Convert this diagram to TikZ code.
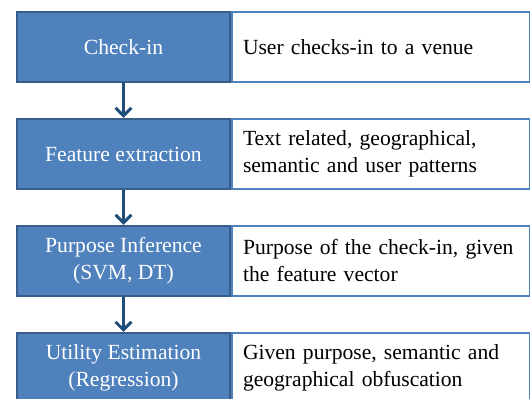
\documentclass[tikz,border=0pt]{standalone}
\usepackage{fontspec}
\setmainfont{Liberation Serif}
\usetikzlibrary{positioning,arrows.meta}
\definecolor{stepblue}{HTML}{4F81BD}
\definecolor{stepedge}{HTML}{385D8A}
\definecolor{flowblue}{HTML}{1F4E79}

\begin{document}
\begin{tikzpicture}[node distance={17.5pt}, font=\fontsize{10.8}{13.5}\selectfont,
    main/.style = {draw=stepedge, fill=stepblue, line width=1pt, text=white, minimum width=106.5pt, minimum height=35pt, align=center, inner sep=0pt},
    info/.style = {draw=stepblue, fill=white, line width=1pt, minimum height=35pt, text width=138pt, inner xsep=5.5pt, inner ysep=0pt, align=left},
    flow/.style = {draw=flowblue, line width=1.5pt, -{Straight Barb[length=4pt, width=8pt]}}]
    \clip (-61.75pt,23.5pt) rectangle (203.25pt,-176pt);
    \node[main] (checkin) {Check-in};
    \node[main] (feature) [below=of checkin] {Feature extraction};
    \node[main] (purpose) [below=of feature] {Purpose Inference\\(SVM, DT)};
    \node[main] (utility) [below=of purpose] {Utility Estimation\\(Regression)};
    \node[info] (checkinfo) [right=0pt of checkin] {User checks-in to a venue};
    \node[info] (featureinfo) [right=0pt of feature] {Text related, geographical,\\semantic and user patterns};
    \node[info] (purposeinfo) [right=0pt of purpose] {Purpose of the check-in, given\\the feature vector};
    \node[info] (utilityinfo) [right=0pt of utility] {Given purpose, semantic and\\geographical obfuscation};
    \draw[flow] (checkin) -- (feature);
    \draw[flow] (feature) -- (purpose);
    \draw[flow] (purpose) -- (utility);
\end{tikzpicture}
\end{document}
